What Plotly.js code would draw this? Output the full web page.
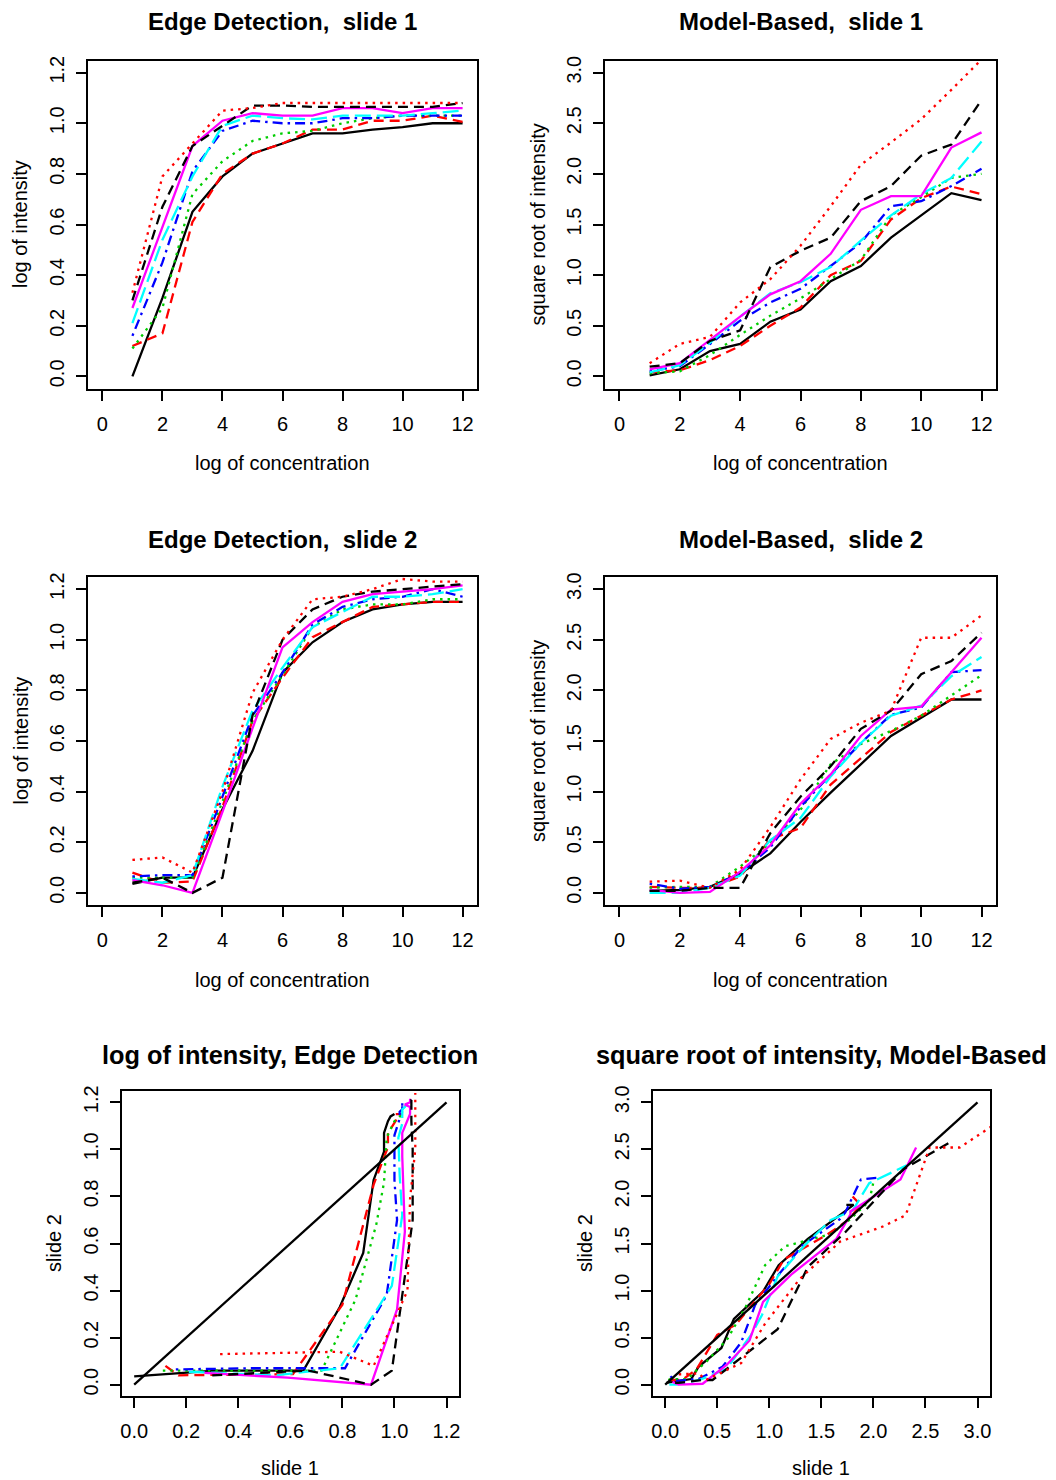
<!DOCTYPE html>
<html><head><meta charset="utf-8">
<script src="https://cdn.plot.ly/plotly-3.0.1.min.js"></script>
<style>html,body{margin:0;padding:0;background:#fff}#chart{width:1056px;height:1480px}</style>
</head><body><div id="chart"></div>
<script>
// ---------------- DATA ----------------
const concentration = [1,2,3,4,5,6,7,8,9,10,11,12];
const seriesLabels = ['series 1','series 2','series 3','series 4','series 5','series 6','series 7','series 8'];

// Edge Detection, slide 1 (log of intensity) - one row per series
const edgeSlide1 = [
  [0.00,0.31,0.65,0.79,0.88,0.92,0.96,0.96,0.975,0.985,1.00,1.00],
  [0.12,0.17,0.61,0.80,0.88,0.92,0.975,0.975,1.01,1.01,1.03,1.005],
  [0.11,0.27,0.72,0.85,0.93,0.96,0.97,1.00,1.02,1.03,1.03,1.03],
  [0.16,0.45,0.81,0.97,1.01,1.00,1.00,1.02,1.02,1.03,1.03,1.03],
  [0.21,0.54,0.79,0.99,1.03,1.02,1.015,1.03,1.03,1.03,1.04,1.05],
  [0.27,0.59,0.91,1.01,1.04,1.03,1.03,1.06,1.06,1.04,1.06,1.06],
  [0.30,0.67,0.91,0.99,1.07,1.07,1.065,1.065,1.065,1.065,1.065,1.08],
  [0.33,0.79,0.92,1.05,1.06,1.08,1.08,1.08,1.08,1.08,1.08,1.08]
];
// Edge Detection, slide 2
const edgeSlide2 = [
  [0.035,0.06,0.06,0.33,0.56,0.87,0.99,1.07,1.12,1.14,1.15,1.15],
  [0.08,0.04,0.045,0.34,0.68,0.85,1.01,1.07,1.13,1.14,1.15,1.15],
  [0.06,0.06,0.06,0.36,0.68,0.86,1.05,1.12,1.14,1.14,1.16,1.16],
  [0.065,0.07,0.07,0.38,0.70,0.87,1.06,1.13,1.16,1.17,1.20,1.17],
  [0.055,0.04,0.07,0.42,0.72,0.89,1.05,1.11,1.17,1.17,1.18,1.20],
  [0.05,0.03,0.00,0.32,0.65,0.97,1.07,1.15,1.18,1.19,1.20,1.215],
  [0.04,0.06,0.00,0.06,0.70,1.00,1.12,1.17,1.19,1.20,1.21,1.22],
  [0.13,0.14,0.08,0.40,0.79,1.00,1.16,1.17,1.20,1.24,1.23,1.23]
];
// Model-Based, slide 1 (square root of intensity)
const modelSlide1 = [
  [0.01,0.07,0.25,0.32,0.54,0.66,0.94,1.09,1.37,1.59,1.81,1.74],
  [0.04,0.06,0.16,0.30,0.50,0.68,1.00,1.14,1.55,1.76,1.875,1.80],
  [0.03,0.05,0.21,0.41,0.60,0.77,0.96,1.15,1.59,1.77,1.96,2.00],
  [0.05,0.10,0.32,0.55,0.73,0.865,1.09,1.32,1.68,1.73,1.88,2.05],
  [0.04,0.11,0.33,0.59,0.82,0.93,1.08,1.34,1.59,1.80,1.96,2.32],
  [0.07,0.13,0.36,0.59,0.81,0.94,1.21,1.645,1.78,1.78,2.26,2.41],
  [0.095,0.13,0.35,0.455,1.08,1.24,1.37,1.73,1.88,2.18,2.29,2.73],
  [0.13,0.32,0.39,0.73,0.96,1.29,1.68,2.09,2.31,2.54,2.83,3.13]
];
// Model-Based, slide 2
const modelSlide2 = [
  [0.02,0.03,0.06,0.19,0.39,0.70,0.99,1.27,1.55,1.73,1.91,1.91],
  [0.06,0.05,0.05,0.16,0.53,0.64,1.07,1.33,1.59,1.75,1.91,2.00],
  [0.05,0.06,0.06,0.26,0.49,0.82,1.27,1.47,1.60,1.75,1.95,2.15],
  [0.09,0.04,0.06,0.19,0.45,0.85,1.17,1.48,1.76,1.83,2.18,2.20],
  [0.00,0.00,0.05,0.17,0.52,0.74,1.15,1.48,1.75,1.85,2.14,2.33],
  [0.03,0.00,0.01,0.21,0.47,0.88,1.17,1.55,1.81,1.84,2.18,2.52],
  [0.02,0.02,0.05,0.05,0.59,0.95,1.25,1.62,1.80,2.16,2.29,2.57],
  [0.11,0.12,0.05,0.23,0.65,1.12,1.52,1.68,1.80,2.52,2.52,2.74]
];
// reference diagonals of the slide-vs-slide plots
const diagLog = [0, 1.2];
const diagSqrt = [0, 3];

// axis limits and ticks
const concLim = [0, 12];
const logLim = [0, 1.2];
const sqrtLim = [0, 3];
const concTicks = [0,2,4,6,8,10,12];
const logTicks = [0,0.2,0.4,0.6,0.8,1.0,1.2];
const sqrtTicks = [0,0.5,1.0,1.5,2.0,2.5,3.0];

// ---------------- STYLE ----------------
const W = 1056, H = 1480;
const FONT = 'Liberation Sans, Arial, Helvetica, sans-serif';
const styles = [
  {color:'#000000', dash:'solid'},
  {color:'#FF0000', dash:'10px,6px'},
  {color:'#00CD00', dash:'2.5px,5px'},
  {color:'#0000FF', dash:'2.5px,5px,10px,5px'},
  {color:'#00FFFF', dash:'16px,6px'},
  {color:'#FF00FF', dash:'solid'},
  {color:'#000000', dash:'10px,6px'},
  {color:'#FF0000', dash:'2.5px,5px'}
];
const LW = 2.3;

function expand(l){ const d = l[1]-l[0]; return [l[0]-0.04*d, l[1]+0.04*d]; }
function domX(a,b){ return [a/W, b/W]; }
function domY(top,bottom){ return [1-bottom/H, 1-top/H]; }

function axisCommon(){
  return {
    ticks:'outside', ticklen:10, tickwidth:2, tickcolor:'#000',
    showline:true, linewidth:2, linecolor:'#000', mirror:true,
    showgrid:false, zeroline:false, fixedrange:true,
    tickfont:{family:FONT, size:20, color:'#000'}
  };
}
function xAxis(domain, lim, ticks, fmt, anchor){
  return Object.assign(axisCommon(), {domain, range:expand(lim), tickmode:'array', tickvals:ticks,
    tickformat:fmt, anchor, tickangle:0, ticklabelstandoff:6});
}
function yAxis(domain, lim, ticks, fmt, anchor){
  return Object.assign(axisCommon(), {domain, range:expand(lim), tickmode:'array', tickvals:ticks,
    tickformat:fmt, anchor, tickangle:-90, ticklabelstandoff:4});
}

// panel boxes in pixels [left,right,top,bottom]
const boxes = {
  TL:[88,477,60.5,388.5], TR:[605,996,60.5,388.5],
  ML:[88,477,577,905],    MR:[605,996,577,905],
  BL:[121.7,459,1091,1396], BR:[652.7,990,1091,1396]
};

const traces = [];
function addSeries(matrixX, matrixY, xa, ya, useConc){
  for(let i=0;i<matrixY.length;i++){
    traces.push({
      type:'scatter', mode:'lines', name:seriesLabels[i],
      x: useConc ? concentration : matrixX[i], y: matrixY[i],
      xaxis:xa, yaxis:ya, showlegend:false,
      line:{color:styles[i].color, dash:styles[i].dash, width:LW}, hoverinfo:'x+y+name'
    });
  }
}
addSeries(null, edgeSlide1, 'x', 'y', true);
addSeries(null, modelSlide1, 'x2', 'y2', true);
addSeries(null, edgeSlide2, 'x3', 'y3', true);
addSeries(null, modelSlide2, 'x4', 'y4', true);
addSeries(edgeSlide1, edgeSlide2, 'x5', 'y5', false);
addSeries(modelSlide1, modelSlide2, 'x6', 'y6', false);
traces.push({type:'scatter', mode:'lines', x:diagLog, y:diagLog, xaxis:'x5', yaxis:'y5',
  showlegend:false, line:{color:'#000', width:LW}, hoverinfo:'skip'});
traces.push({type:'scatter', mode:'lines', x:diagSqrt, y:diagSqrt, xaxis:'x6', yaxis:'y6',
  showlegend:false, line:{color:'#000', width:LW}, hoverinfo:'skip'});

const layout = {
  width:W, height:H, margin:{l:0,r:0,t:0,b:0},
  paper_bgcolor:'#fff', plot_bgcolor:'#fff', showlegend:false,
  font:{family:FONT, color:'#000', size:20},
  xaxis:  xAxis(domX(boxes.TL[0],boxes.TL[1]), concLim, concTicks, 'd', 'y'),
  yaxis:  yAxis(domY(boxes.TL[2],boxes.TL[3]), logLim, logTicks, '.1f', 'x'),
  xaxis2: xAxis(domX(boxes.TR[0],boxes.TR[1]), concLim, concTicks, 'd', 'y2'),
  yaxis2: yAxis(domY(boxes.TR[2],boxes.TR[3]), sqrtLim, sqrtTicks, '.1f', 'x2'),
  xaxis3: xAxis(domX(boxes.ML[0],boxes.ML[1]), concLim, concTicks, 'd', 'y3'),
  yaxis3: yAxis(domY(boxes.ML[2],boxes.ML[3]), logLim, logTicks, '.1f', 'x3'),
  xaxis4: xAxis(domX(boxes.MR[0],boxes.MR[1]), concLim, concTicks, 'd', 'y4'),
  yaxis4: yAxis(domY(boxes.MR[2],boxes.MR[3]), sqrtLim, sqrtTicks, '.1f', 'x4'),
  xaxis5: xAxis(domX(boxes.BL[0],boxes.BL[1]), logLim, logTicks, '.1f', 'y5'),
  yaxis5: yAxis(domY(boxes.BL[2],boxes.BL[3]), logLim, logTicks, '.1f', 'x5'),
  xaxis6: xAxis(domX(boxes.BR[0],boxes.BR[1]), sqrtLim, sqrtTicks, '.1f', 'y6'),
  yaxis6: yAxis(domY(boxes.BR[2],boxes.BR[3]), sqrtLim, sqrtTicks, '.1f', 'x6'),
  annotations: []
};

function ann(text, cx, cy, opts){
  layout.annotations.push(Object.assign({
    text, x:cx/W, y:1-cy/H, xref:'paper', yref:'paper', showarrow:false,
    xanchor:'center', yanchor:'middle', font:{family:FONT, size:20, color:'#000'}
  }, opts||{}));
}
function mid(b){ return (b[0]+b[1])/2; }
function midY(b){ return (b[2]+b[3])/2; }
const titleFont = {family:FONT, size:24, color:'#000', weight:700};
const titleFontBottom = {family:FONT, size:25.3, color:'#000', weight:700};

ann('Edge Detection,  slide 1', mid(boxes.TL), 21.5, {font:titleFont});
ann('Model-Based,  slide 1', mid(boxes.TR), 21.5, {font:titleFont});
ann('Edge Detection,  slide 2', mid(boxes.ML), 539.5, {font:titleFont});
ann('Model-Based,  slide 2', mid(boxes.MR), 539.5, {font:titleFont});
ann('log of intensity, Edge Detection', mid(boxes.BL), 1055, {font:titleFontBottom});
ann('square root of intensity, Model-Based', mid(boxes.BR), 1055, {font:titleFontBottom});

ann('log of concentration', mid(boxes.TL), 463);
ann('log of concentration', mid(boxes.TR), 463);
ann('log of concentration', mid(boxes.ML), 980);
ann('log of concentration', mid(boxes.MR), 980);
ann('slide 1', mid(boxes.BL), 1468);
ann('slide 1', mid(boxes.BR), 1468);

ann('log of intensity', 20.5, midY(boxes.TL), {textangle:-90});
ann('square root of intensity', 538, midY(boxes.TR), {textangle:-90});
ann('log of intensity', 20.5, midY(boxes.ML), {textangle:-90});
ann('square root of intensity', 538, midY(boxes.MR), {textangle:-90});
ann('slide 2', 53.5, midY(boxes.BL), {textangle:-90});
ann('slide 2', 584.5, midY(boxes.BR), {textangle:-90});

Plotly.newPlot('chart', traces, layout, {displayModeBar:false, staticPlot:true});
</script>
</body></html>
